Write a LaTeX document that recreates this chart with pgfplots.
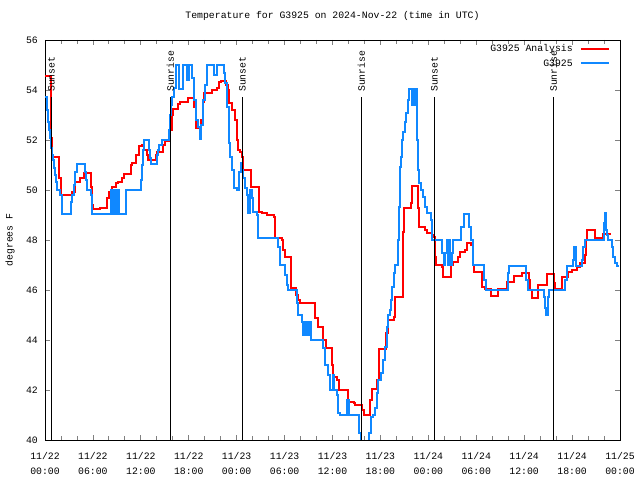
\documentclass[border=0pt]{standalone}
\usepackage{pgfplots}
\pgfplotsset{compat=1.18}
\usepackage{fontspec}
\setmainfont{Liberation Mono}
\definecolor{obsblue}{RGB}{16,136,255}
\begin{document}
\begin{tikzpicture}[font=\fontsize{9.8bp}{15bp}\selectfont]
\useasboundingbox (0,0) rectangle (640bp,480bp);
\begin{axis}[
  at={(45bp,40bp)}, anchor=south west,
  scale only axis, width=575bp, height=400bp,
  xmin=0, xmax=72, ymin=40, ymax=56,
  xtick={0,6,...,72},
  xticklabels={{11/22\\00:00},{11/22\\06:00},{11/22\\12:00},{11/22\\18:00},{11/23\\00:00},{11/23\\06:00},{11/23\\12:00},{11/23\\18:00},{11/24\\00:00},{11/24\\06:00},{11/24\\12:00},{11/24\\18:00},{11/25\\00:00}},
  minor x tick num=2,
  ytick={40,42,...,56},
  tick align=inside, tick pos=both,
  major tick length=5bp, minor tick length=4bp,
  tick style={line width=0.8bp},
  axis line style={line width=0.8bp},
  /pgf/number format/assume math mode=true,
  xticklabel style={align=center, inner sep=0pt, yshift=-12bp},
  yticklabel style={inner sep=0pt, xshift=-7bp},
  ylabel={degrees F},
  every axis y label/.style={at={(axis description cs:0,0.5)}, xshift=-35bp, rotate=90, anchor=center},
  title={Temperature for G3925 on 2024-Nov-22 (time in UTC)},
  title style={at={(axis description cs:0.5,1)}, anchor=base, inner sep=0pt, yshift=16bp},
  clip=true,
]
% analysis
\addplot[draw=red, line width=1.5bp, const plot, mark=none] coordinates {
(0,54.56) (0.75,52.08) (0.88,51.32) (1.75,50.48) (2.00,49.8) (3.38,49.92) (3.76,50.32) (4.38,50.48) (4.88,50.68)
(5.76,50.12) (5.89,49.4) (6.01,49.24) (6.89,49.28) (7.76,49.68) (8.01,49.92) (8.39,50.12) (8.89,50.28) (9.14,50.32)
(9.64,50.48) (9.89,50.64) (10.77,51.0) (10.89,51.08) (11.39,51.4) (11.77,51.76) (12.15,51.8) (12.40,51.6) (12.77,51.4)
(12.90,51.2) (13.90,51.4) (14.02,51.52) (14.78,51.8) (15.03,51.96) (15.65,52.4) (15.90,53.0) (16.03,53.24) (16.65,53.44)
(16.90,53.52) (17.91,53.68) (18.66,53.32) (18.91,52.48) (19.53,52.8) (19.78,53.52) (19.91,53.88) (20.91,54.0) (21.54,54.08)
(21.79,54.32) (22.04,54.36) (22.67,54.2) (22.92,54.0) (23.04,53.48) (23.42,53.2) (23.79,52.8) (24.04,52.0) (24.17,51.6)
(24.42,51.52) (24.67,51.32) (24.79,50.8) (25.80,50.12) (26.80,49.12) (27.17,49.08) (27.80,49.0) (28.68,48.92) (28.80,48.08)
(29.68,48.0) (29.80,47.6) (30.05,47.32) (30.80,46.08) (31.43,45.8) (31.68,45.6) (31.93,45.48) (33.81,44.88) (34.19,44.52)
(34.81,44.0) (35.19,43.68) (35.94,43.0) (36.06,42.52) (36.56,42.4) (36.81,42.0) (37.94,41.52) (38.69,41.48) (38.82,41.4)
(39.69,41.2) (39.94,41.0) (40.70,41.6) (40.95,42.04) (41.57,42.4) (41.82,43.64) (42.70,44.28) (42.95,44.8) (43.70,44.92)
(43.83,45.72) (44.83,48.32) (44.95,49.28) (45.83,49.48) (45.96,50.16) (46.71,49.28) (46.83,48.52) (47.58,48.4) (47.83,48.28)
(48.46,48.2) (48.71,48.12) (48.84,47.32) (48.96,47.0) (49.71,46.92) (49.84,46.52) (50.84,47.0) (51.09,47.12) (51.71,47.32)
(51.96,47.52) (52.59,47.6) (52.84,47.88) (53.35,47.8) (53.60,47.0) (53.72,46.72) (54.72,46.12) (55.10,46.04) (55.85,45.76)
(56.73,46.04) (57.86,46.32) (58.73,46.56) (59.74,46.68) (60.61,46.4) (60.73,46.0) (60.98,45.68) (61.73,46.2) (62.86,46.64)
(63.74,46.28) (63.86,46.04) (64.74,46.52) (65.49,46.72) (65.99,46.8) (66.62,46.92) (66.99,47.08) (67.62,47.4) (67.74,48.0)
(67.87,48.4) (68.87,48.08) (69.87,48.24) (70.75,48.2)
};
% observations
\addplot[draw=obsblue, line width=1.5bp, const plot, mark=none] coordinates {
(0.00,53.72) (0.25,53.2) (0.38,52.72) (0.50,52.4) (0.63,52.08) (0.75,51.68) (0.88,51.4) (1.00,51.2) (1.13,50.88)
(1.25,50.6) (1.38,50.32) (1.50,50.0) (1.88,49.8) (2.13,49.04) (3.26,49.52) (3.38,49.8) (3.63,50.2) (3.76,50.72)
(4.01,51.04) (5.01,50.72) (5.13,50.4) (5.26,50.0) (5.76,49.8) (5.89,49.04) (8.26,50.0) (8.39,49.04) (8.64,50.0)
(8.77,49.04) (9.02,50.0) (9.27,49.04) (10.14,50.0) (12.02,50.4) (12.15,51.0) (12.27,51.6) (12.40,52.0) (13.02,51.6)
(13.15,51.28) (13.27,51.04) (14.02,51.4) (14.15,51.6) (14.28,51.8) (14.65,52.0) (15.53,52.4) (15.65,53.0) (15.78,53.4)
(15.90,53.72) (16.15,54.08) (16.40,55.0) (16.78,54.04) (17.28,55.0) (17.78,54.4) (18.03,55.0) (18.41,54.48) (18.66,53.6)
(18.91,52.8) (19.16,52.52) (19.41,52.04) (19.53,52.6) (19.78,53.6) (20.04,54.2) (20.29,55.0) (21.16,54.6) (21.54,55.0)
(22.41,54.68) (22.54,54.28) (22.79,53.32) (23.04,51.88) (23.17,51.32) (23.42,50.8) (23.67,50.08) (24.04,50.0) (24.29,50.72)
(24.54,51.08) (24.67,50.8) (24.79,50.48) (25.04,50.08) (25.29,49.8) (25.42,49.08) (25.67,50.0) (25.92,49.68) (26.05,49.12)
(26.55,49.0) (26.67,48.08) (29.05,48.08) (29.18,47.72) (29.43,47.0) (30.05,46.6) (30.30,46.2) (30.43,46.0) (31.56,45.48)
(31.68,45.0) (32.18,44.72) (32.31,44.2) (32.43,44.72) (32.56,44.2) (32.68,44.72) (32.81,44.2) (32.93,44.72) (33.06,44.2)
(33.18,44.72) (33.31,44.0) (34.81,43.68) (35.06,43.0) (35.44,42.6) (35.69,42.0) (36.06,42.6) (36.19,42.0) (36.56,41.8)
(36.69,41.08) (36.94,41.0) (37.82,41.6) (38.07,41.0) (39.32,40.28) (39.57,39.8) (40.57,40.28) (40.82,40.92) (41.07,41.0)
(41.32,41.28) (41.57,41.88) (41.70,42.4) (42.07,42.68) (42.32,43.2) (42.57,43.72) (42.82,44.52) (42.95,45.0) (43.20,45.2)
(43.33,45.6) (43.45,46.12) (43.70,46.68) (43.83,47.0) (44.20,48.0) (44.33,49.32) (44.45,50.92) (44.58,51.32) (44.70,52.0)
(44.83,52.32) (45.08,52.72) (45.20,53.08) (45.45,53.6) (45.58,54.04) (45.96,53.4) (46.21,54.04) (46.33,53.4) (46.46,54.04)
(46.58,52.0) (46.71,50.8) (46.83,50.28) (47.08,50.0) (47.33,49.72) (47.58,49.32) (47.83,49.08) (48.33,48.8) (48.45,48.0)
(49.71,47.48) (49.96,47.0) (50.09,47.48) (50.34,48.0) (50.46,47.0) (50.59,48.0) (50.71,47.0) (50.96,47.48) (51.09,48.0)
(52.09,48.52) (52.47,49.04) (53.09,48.52) (53.35,48.0) (53.60,47.0) (54.97,46.4) (55.22,46.0) (57.98,46.68) (58.10,46.96)
(60.23,46.4) (60.48,46.0) (62.48,45.72) (62.60,45.28) (62.73,45.0) (62.98,45.72) (63.11,46.0) (65.11,46.4) (65.36,46.96)
(66.11,47.2) (66.24,47.72) (66.49,46.96) (67.24,47.2) (67.37,47.72) (67.62,48.0) (70.00,48.68) (70.12,49.08) (70.25,48.4)
(70.37,48.2) (70.50,48.0) (71.00,47.72) (71.12,47.32) (71.37,47.08) (71.62,46.96) (71.87,46.96)
};
% sunrise / sunset lines
\addplot[black, line width=0.8bp] coordinates {(0.81,40) (0.81,53.7)};
\addplot[black, line width=0.8bp] coordinates {(15.69,40) (15.69,53.7)};
\addplot[black, line width=0.8bp] coordinates {(24.71,40) (24.71,53.7)};
\addplot[black, line width=0.8bp] coordinates {(39.61,40) (39.61,53.7)};
\addplot[black, line width=0.8bp] coordinates {(48.75,40) (48.75,53.7)};
\addplot[black, line width=0.8bp] coordinates {(63.65,40) (63.65,53.7)};
% labels of the sun lines
\node[rotate=90, anchor=west, inner sep=0pt] at (axis cs:0.81,53.92) {Sunset};
\node[rotate=90, anchor=west, inner sep=0pt] at (axis cs:15.69,53.92) {Sunrise};
\node[rotate=90, anchor=west, inner sep=0pt] at (axis cs:24.71,53.92) {Sunset};
\node[rotate=90, anchor=west, inner sep=0pt] at (axis cs:39.61,53.92) {Sunrise};
\node[rotate=90, anchor=west, inner sep=0pt] at (axis cs:48.75,53.92) {Sunset};
\node[rotate=90, anchor=west, inner sep=0pt] at (axis cs:63.65,53.92) {Sunrise};
% key
\node[anchor=east, inner sep=0pt] at (axis description cs:0.918,0.9775) {G3925 Analysis};
\node[anchor=east, inner sep=0pt] at (axis description cs:0.918,0.9425) {G3925};
\draw[red, line width=1.5bp] (axis description cs:0.932,0.9775) -- (axis description cs:0.981,0.9775);
\draw[obsblue, line width=1.5bp] (axis description cs:0.932,0.9425) -- (axis description cs:0.981,0.9425);
\end{axis}
\end{tikzpicture}
\end{document}
